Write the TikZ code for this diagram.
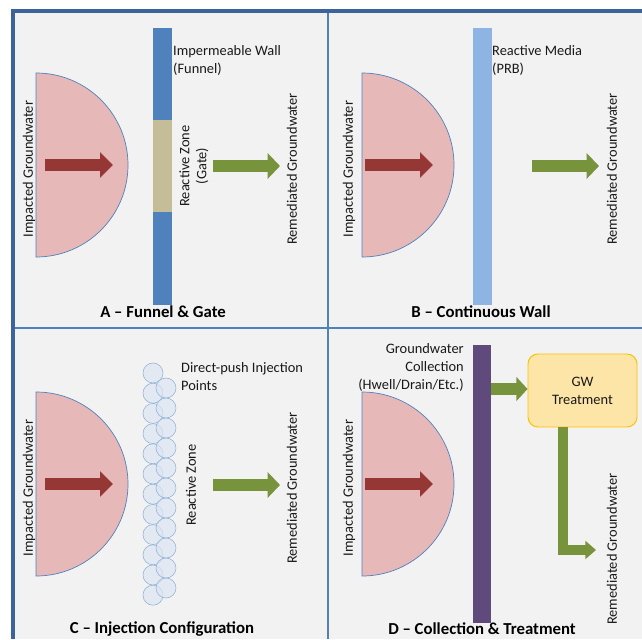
\documentclass[tikz,border=0pt]{standalone}
\usepackage{fontspec}
\setmainfont{Carlito}
\usepackage{tikz}
\usetikzlibrary{arrows.meta}
\usetikzlibrary{calc}
\definecolor{frameblue}{HTML}{3C649A}
\definecolor{lineblue}{HTML}{4F81BD}
\definecolor{panelgray}{HTML}{F2F2F2}
\definecolor{plumepink}{HTML}{E6B9B8}
\definecolor{flowred}{HTML}{953735}
\definecolor{flowgreen}{HTML}{77933C}
\definecolor{walltan}{HTML}{C4BD97}
\definecolor{prbblue}{HTML}{8DB4E2}
\definecolor{injfill}{HTML}{DCE6F2}
\definecolor{injdraw}{HTML}{95B3D7}
\definecolor{collpurple}{HTML}{604A7B}
\definecolor{gwfill}{HTML}{FCE5A6}
\definecolor{gwdraw}{HTML}{FFC000}
\def\pu{0.03cm}
\tikzstyle{plume} = [draw=lineblue, line width=0.6pt, fill=plumepink]
\tikzstyle{redflow} = [draw=flowred, line width=10.2pt, -{Triangle[width=21.3pt,length=11pt]}]
\tikzstyle{greenflow} = [draw=flowgreen, line width=10.5pt, -{Triangle[width=21.3pt,length=10.5pt]}]
\tikzstyle{vlabel} = [rotate=90, align=center, text=black!90, font=\fontsize{12.3}{14.5}\selectfont, inner sep=0pt]
\tikzstyle{hlabel} = [align=left, text=black!90, font=\fontsize{12.3}{15.4}\selectfont, inner sep=0pt]
\tikzstyle{paneltitle} = [font=\fontsize{14.3}{16}\selectfont\bfseries, inner sep=0pt]
\tikzstyle{wallbar} = [inner sep=0pt, minimum width=19*\pu]
\tikzstyle{injpt} = [circle, draw=injdraw, fill=injfill, fill opacity=0.7, minimum size=20*\pu, inner sep=0pt, line width=0.5pt]
\tikzstyle{gwbox} = [draw=gwdraw, fill=gwfill, line width=0.8pt, rounded corners=10*\pu, align=center, text=black!90, font=\fontsize{12.3}{15.4}\selectfont, minimum width=109*\pu, minimum height=73*\pu]

\begin{document}
\begin{tikzpicture}[x=\pu, y=-\pu]
\useasboundingbox (0,0) rectangle (642,639);

% Draw panels
    \fill[panelgray] (12,11) rectangle (642,639);
    \draw[lineblue, line width=2.5pt] (328,11) -- (328,639);
    \draw[lineblue, line width=2.5pt] (12,328) -- (642,328);
    \draw[frameblue, line width=3.4pt] (11,11) -- (642,11);
    \draw[frameblue, line width=2.6pt] (13,11) -- (13,639);

% Plumes and inflow, same in every panel
    \foreach \ox/\oy/\dk/\p in {0/0/36/A, 320/0/42/B, 0/319/36/C, 320/319/42/D} {
        \draw[plume] (\ox+\dk,\oy+73) arc[start angle=-90, end angle=90, radius=92] -- cycle;
        \coordinate (in\p) at (\ox+45,\oy+165);
        \coordinate (out\p) at (\ox+113,\oy+165);
        \draw[redflow] (in\p) -- (out\p);
        \node[vlabel] (imp\p) at (\ox+29,\oy+169) {Impacted Groundwater};
    }

% A - funnel and gate
    \node[wallbar, fill=lineblue, minimum height=92*\pu] (funnelTop) at (162.5,74) {};
    \node[wallbar, fill=walltan, minimum height=92*\pu] (gate) at (162.5,166) {};
    \node[wallbar, fill=lineblue, minimum height=93*\pu] (funnelBot) at (162.5,258.5) {};
    \node[hlabel, anchor=north west] (funnelTxt) at (173,45) {Impermeable Wall\\(Funnel)};
    \node[vlabel] (gateTxt) at (194,166) {Reactive Zone\\(Gate)};
    \coordinate (remInA) at (213,166);
    \coordinate (remOutA) at (280,166);
    \draw[greenflow] (remInA) -- (remOutA);
    \node[vlabel] (remA) at (292,169) {Remediated Groundwater};
    \node[paneltitle] (titleA) at (163,312) {A -- Funnel \& Gate};

% B - continuous wall
    \node[wallbar, fill=prbblue, minimum height=277*\pu] (prb) at (482,166.5) {};
    \node[hlabel, anchor=north west] (prbTxt) at (492,45) {Reactive Media\\(PRB)};
    \coordinate (remInB) at (532,166);
    \coordinate (remOutB) at (599,166);
    \draw[greenflow] (remInB) -- (remOutB);
    \node[vlabel] (remB) at (612,169) {Remediated Groundwater};
    \node[paneltitle] (titleB) at (481,312) {B -- Continuous Wall};

% C - injection points
    \foreach \i in {0,...,11} {
        \node[injpt] (injL\i) at (153,{373+20.2*\i}) {};
    }
    \foreach \i in {0,...,10} {
        \node[injpt] (injR\i) at (166,{388+20*\i}) {};
    }
    \node[hlabel, anchor=north west] (injTxt) at (181,362) {Direct-push Injection\\Points};
    \node[vlabel] (zoneC) at (191,485) {Reactive Zone};
    \coordinate (remInC) at (213,485);
    \coordinate (remOutC) at (280,485);
    \draw[greenflow] (remInC) -- (remOutC);
    \node[vlabel] (remC) at (292,488) {Remediated Groundwater};
    \node[paneltitle] (titleC) at (162,629) {C -- Injection Configuration};

% D - collection and treatment
    \node[wallbar, fill=collpurple, minimum width=18*\pu, minimum height=278*\pu] (coll) at (482,484) {};
    \node[hlabel, align=right, anchor=north east] (collTxt) at (464,343) {Groundwater\\Collection\\(Hwell/Drain/Etc.)};
    \node[gwbox] (gw) at (582.5,390.5) {GW\\Treatment};
    \coordinate (collOut) at (491,389);
    \draw[greenflow, -{Triangle[width=20pt,length=9.5pt]}] (collOut) -- (collOut -| gw.west);
    \coordinate (remOutD) at (596,550);
    \draw[greenflow, line width=8.5pt, line join=miter, -{Triangle[width=15pt,length=9pt]}] ([xshift=-19.5*\pu]gw.south) |- (remOutD);
    \node[vlabel] (remD) at (612,549) {Remediated Groundwater};
    \node[paneltitle] (titleD) at (482,629) {D -- Collection \& Treatment};

\end{tikzpicture}
\end{document}
